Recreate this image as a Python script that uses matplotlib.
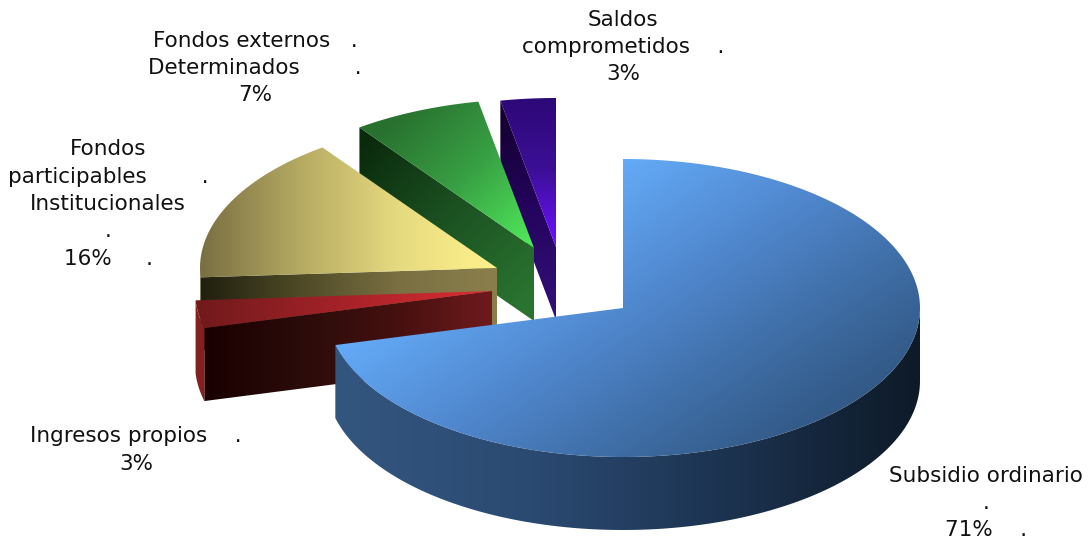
import numpy as np
import matplotlib
matplotlib.use("Agg")
import matplotlib.pyplot as plt
from matplotlib.colors import LinearSegmentedColormap, to_rgb
from matplotlib.path import Path
from matplotlib.patches import PathPatch

# ---- data ----
categories = ["Subsidio ordinario", "Ingresos propios", "Fondos participables Institucionales",
              "Fondos externos Determinados", "Saldos comprometidos"]
values = [71, 3, 16, 7, 3]

# ---- label text (line breaks and dot padding as in the source) ----
label_templates = [
    "Subsidio ordinario\n.\n{}%    .",
    "Ingresos propios    .\n{}%",
    "Fondos\nparticipables        .\nInstitucionales\n.\n{}%     .",
    "Fondos externos   .\nDeterminados        .\n{}%",
    "Saldos\ncomprometidos    .\n{}%",
]
label_pos = [(986, 503), (136, 450), (108, 204), (255, 68), (623, 47)]

# ---- geometry / style ----
W, H = 1091, 544
RX, RY, DEPTH = 297, 149, 73
apex = [(623, 308), (492, 291), (497, 268), (534, 248), (556, 247)]

top_style = [
    (["#64aaf7", "#4f86cc", "#3a669a", "#2a4a70"], (623, 160), (843, 496)),
    (["#701a1c", "#a32228", "#d92c32"], (196, 300), (480, 300)),
    (["#7a6f42", "#b5aa62", "#e6da80", "#fff28c"], (201, 270), (497, 270)),
    (["#28702f", "#38a044", "#50e85a"], (400, 110), (530, 245)),
    (["#2d0878", "#3c0f96", "#6a10fa"], (530, 100), (530, 240)),
]
side_style = [
    (["#33567f", "#2b4a72", "#1c3350", "#0e1a28"], (335, 0), (920, 0)),
    (["#1a0000", "#2a0c0a", "#45100f", "#6e1a1c"], (205, 0), (492, 0)),
    (["#20200f", "#4e4a26", "#7a6f42", "#8a7f4c"], (201, 0), (497, 0)),
    (["#0a2a0c", "#1c5222", "#2a7430"], (365, 140), (530, 300)),
    (["#14002e", "#24045e", "#321078"], (510, 110), (550, 310)),
]
rim_colors = ["#3a5f8f", "#842020", "#6e6438", "#2a7430", "#321078"]
draw_order = [4, 3, 2, 1, 0]

fig = plt.figure(figsize=(W / 100, H / 100), dpi=100, facecolor="white")
ax = fig.add_axes([0, 0, 1, 1])
ax.set_xlim(0, W)
ax.set_ylim(H, 0)
ax.axis("off")
ax.set_autoscale_on(False)


def gradient(verts, colors, p0, p1, z):
    verts = np.asarray(verts, float)
    path = Path(np.vstack([verts, verts[0]]), closed=True)
    x0, y0 = np.floor(verts.min(axis=0)) - 1
    x1, y1 = np.ceil(verts.max(axis=0)) + 1
    X, Y = np.meshgrid(np.arange(x0, x1 + 1), np.arange(y0, y1 + 1))
    d = np.array(p1, float) - np.array(p0, float)
    t = ((X - p0[0]) * d[0] + (Y - p0[1]) * d[1]) / (d @ d)
    cmap = LinearSegmentedColormap.from_list("g", [to_rgb(c) for c in colors])
    im = ax.imshow(cmap(np.clip(t, 0, 1)), extent=(x0, x1, y1, y0), aspect="auto",
                   interpolation="bilinear", zorder=z)
    im.set_clip_path(PathPatch(path, transform=ax.transData))


def outer(c, a):
    return np.column_stack([c[0] + RX * np.sin(a), c[1] - RY * np.cos(a)])


fractions = np.array(values, float) / sum(values)
edges = np.concatenate([[0], np.cumsum(fractions)]) * 2 * np.pi

for order, i in enumerate(draw_order):
    c = apex[i]
    a0, a1 = edges[i], edges[i + 1]
    z = 2 + order * 3
    # radial face at the starting edge of the exploded slices
    if i != 0:
        p = outer(c, np.array([a0]))[0]
        face = [c, p, p + [0, DEPTH], (c[0], c[1] + DEPTH)]
        gradient(face, side_style[i][0], side_style[i][1], side_style[i][2], z)
    # front-facing outer rim
    lo, hi = max(a0, np.pi / 2), min(a1, 3 * np.pi / 2)
    if hi > lo:
        arc = outer(c, np.linspace(lo, hi, 200))
        rim = np.vstack([arc, arc[::-1] + [0, DEPTH]])
        if i == 0:
            gradient(rim, side_style[i][0], side_style[i][1], side_style[i][2], z + 1)
        else:
            ax.fill(rim[:, 0], rim[:, 1], color=rim_colors[i], lw=0, zorder=z + 1)
    # top surface
    arc = outer(c, np.linspace(a0, a1, 300))
    top = np.vstack([[c], arc])
    gradient(top, top_style[i][0], top_style[i][1], top_style[i][2], z + 2)

for tmpl, v, (x, y) in zip(label_templates, values, label_pos):
    ax.text(x, y, tmpl.format(v), ha="center", va="center", multialignment="center",
            fontsize=15.5, family="DejaVu Sans", color="#111111", linespacing=1.46, zorder=40)

fig.savefig("out.png", dpi=100, facecolor="white")
